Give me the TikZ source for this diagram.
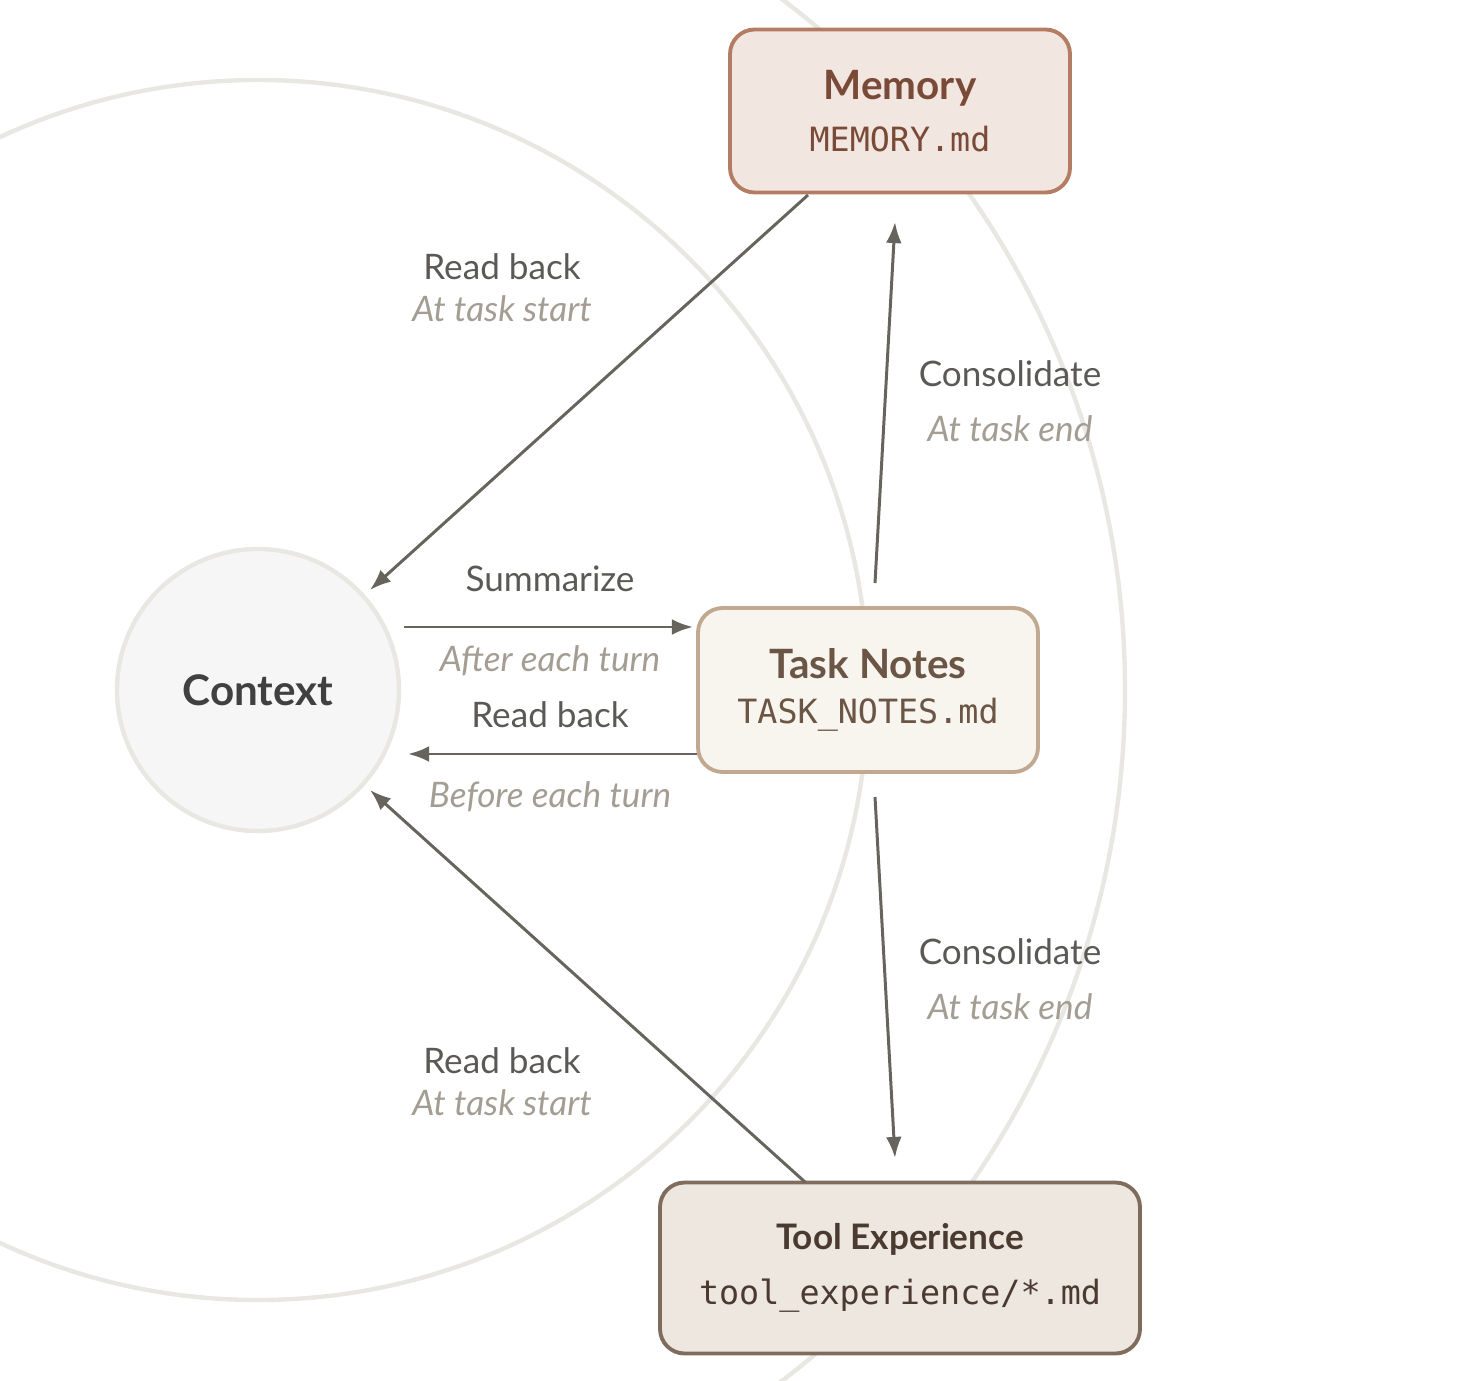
\documentclass[tikz,border=0pt]{standalone}
\usepackage{fontspec}
\setmainfont{Lato}
\newfontfamily\codefont{DejaVu Sans Mono}
\usetikzlibrary{positioning,arrows.meta}
\definecolor{ringgray}{HTML}{E8E7E2}
\definecolor{arrowgray}{HTML}{66645C}
\definecolor{labeldark}{HTML}{5A5955}
\definecolor{labellight}{HTML}{A39D93}
\definecolor{memfill}{HTML}{F2E6E0}
\definecolor{memdraw}{HTML}{B57C64}
\definecolor{memtext}{HTML}{7A4A38}
\definecolor{taskfill}{HTML}{F8F4EE}
\definecolor{taskdraw}{HTML}{C0A990}
\definecolor{tasktext}{HTML}{6B5646}
\definecolor{toolfill}{HTML}{EDE7E0}
\definecolor{tooldraw}{HTML}{806C5D}
\definecolor{tooltext}{HTML}{4A3A30}
\begin{document}
\begin{tikzpicture}[x=0.02cm,y=-0.02cm]
  \tikzset{Store/.style={%
      draw, rounded corners=14pt, line width=2.2pt,%
      align=center, inner sep=0pt%
    },
    Flow/.style={%
      draw=arrowgray, line width=1.7pt,%
      -{Latex[length=12pt,width=9pt]}%
    },
    Action/.style={font=\fontsize{20}{24}\selectfont, text=labeldark},
    When/.style={font=\fontsize{20}{24}\selectfont\itshape, text=labellight}}

  \useasboundingbox (0,0) rectangle (1483,1381);
  \begin{scope}
    \clip (0,0) rectangle (1483,1381);
    \draw[ringgray, line width=2.5pt] (258,690) circle[radius=610*0.02cm];
    \draw[ringgray, line width=2.5pt] (258,690) circle[radius=867*0.02cm];
  \end{scope}

  \node[circle, fill=gray!7, draw=ringgray, line width=2.5pt, minimum size=282*0.02cm,
        font=\fontsize{24}{28}\selectfont\bfseries, text=black!75] (ctx) at (258,690) {Context};

  \node[Store, fill=memfill, draw=memdraw, minimum width=340*0.02cm, minimum height=163*0.02cm] (mem) at (900,111)
    {{\fontsize{23}{28}\selectfont\bfseries\color{memtext}Memory}\\[10pt]
     {\codefont\fontsize{19}{22}\selectfont\color{memtext}MEMORY.md}};
  \node[Store, fill=taskfill, draw=taskdraw, minimum width=340*0.02cm, minimum height=164*0.02cm] (task) at (868,690)
    {{\fontsize{23}{28}\selectfont\bfseries\color{tasktext}Task Notes}\\[10pt]
     {\codefont\fontsize{19}{22}\selectfont\color{tasktext}TASK\_NOTES.md}};
  \node[Store, fill=toolfill, draw=tooldraw, minimum width=480*0.02cm, minimum height=171*0.02cm] (tool) at (900,1268)
    {{\fontsize{20}{24}\selectfont\bfseries\color{tooltext}Tool Experience}\\[12pt]
     {\codefont\fontsize{19}{22}\selectfont\color{tooltext}tool\_experience/*.md}};

  % end points of the flows
  \coordinate (memout) at (808,195);
  \coordinate (memin) at (895,222);
  \coordinate (taskup) at (875,583);
  \coordinate (taskdown) at (875,797);
  \coordinate (toolin) at (895,1158);
  \coordinate (toolout) at (805,1182);
  \coordinate (ctxtop) at (370,590);
  \coordinate (ctxbot) at (370,790);
  \coordinate (ctxout) at (404,627);
  \coordinate (taskin) at (693,627);
  \coordinate (taskout) at (697,754);
  \coordinate (ctxin) at (408,754);

  \draw[Flow] (memout) -- (ctxtop);
  \draw[Flow] (taskup) -- (memin);
  \draw[Flow] (ctxout) -- (taskin);
  \draw[Flow] (taskout) -- (ctxin);
  \draw[Flow] (taskdown) -- (toolin);
  \draw[Flow] (toolout) -- (ctxbot);

  \node[Action] (l1) at (502,267) {Read back};
  \node[When, below=2pt of l1] (w1) {At task start};
  \node[Action] (l2) at (1010,374) {Consolidate};
  \node[When] (w2) at (1010,429) {At task end};
  \node[Action] (l3) at (550,579) {Summarize};
  \node[When] (w3) at (550,661) {After each turn};
  \node[Action] (l4) at (550,715) {Read back};
  \node[When] (w4) at (550,797) {Before each turn};
  \node[Action] (l5) at (1010,952) {Consolidate};
  \node[When] (w5) at (1010,1007) {At task end};
  \node[Action] (l6) at (502,1061) {Read back};
  \node[When, below=2pt of l6] (w6) {At task start};
\end{tikzpicture}
\end{document}
